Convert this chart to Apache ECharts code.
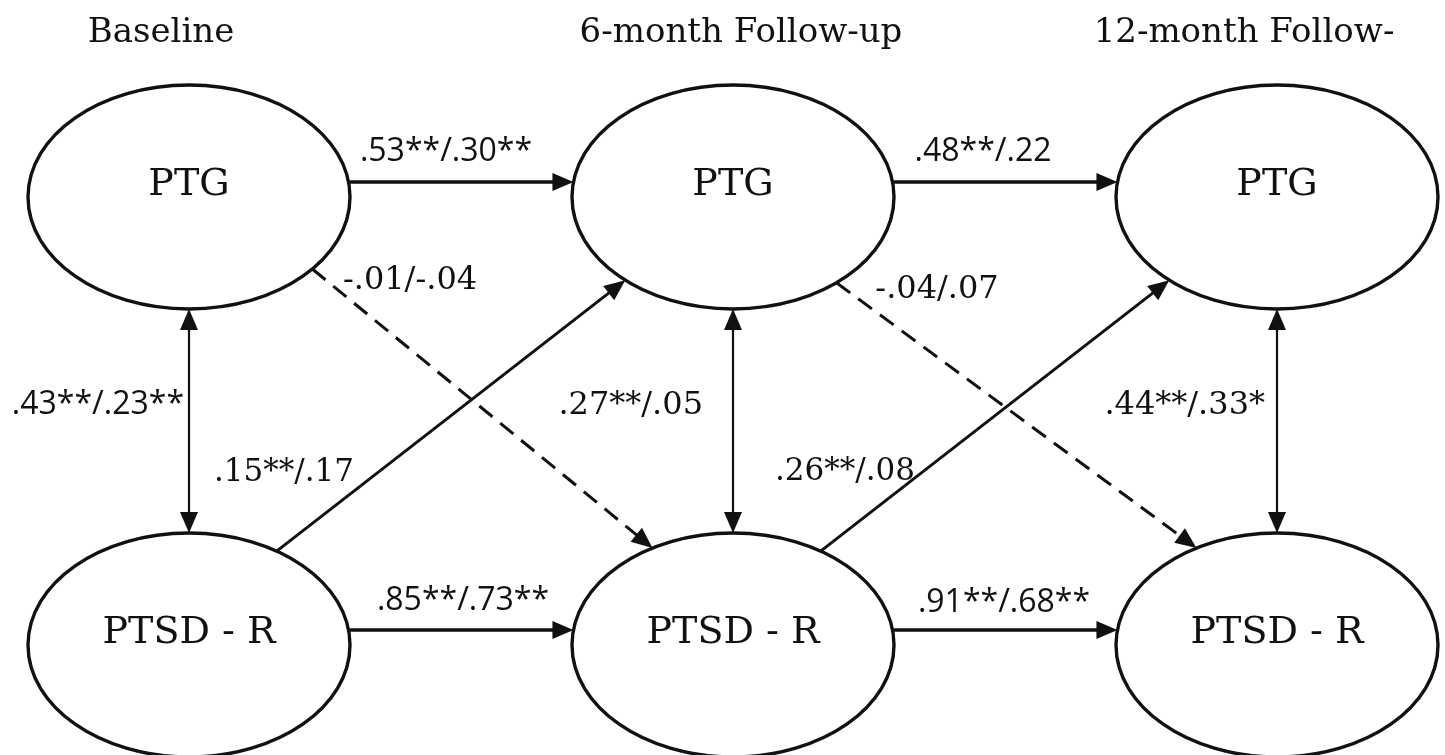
<!DOCTYPE html>
<html><head><meta charset="utf-8">
<script src="https://cdn.jsdelivr.net/npm/echarts@6/dist/echarts.min.js"></script>
<style>html,body{margin:0;padding:0;background:#fff}#c{width:1445px;height:755px}</style>
</head><body><div id="c"></div>
<script>
// ---------- data ----------
const waves = ['Baseline', '6-month Follow-up', '12-month Follow-'];
const constructs = ['PTG', 'PTSD - R'];
// paths between latent variables (wave index, construct row index)
const pathFromWave = [0, 1, 0, 1, 0, 1, 2, 0, 1, 0, 1];
const pathFromRow  = [0, 0, 1, 1, 0, 0, 0, 1, 1, 0, 0];
const pathToWave   = [1, 2, 1, 2, 0, 1, 2, 1, 2, 1, 2];
const pathToRow    = [0, 0, 1, 1, 1, 1, 1, 0, 0, 1, 1];
const pathLabels   = ['.53**/.30**', '.48**/.22', '.85**/.73**', '.91**/.68**',
                      '.43**/.23**', '.27**/.05', '.44**/.33*',
                      '.15**/.17', '.26**/.08', '-.01/-.04', '-.04/.07'];
const pathTwoWay     = [false, false, false, false, true, true, true, false, false, false, false];
const pathSignificant = [true, true, true, true, true, true, true, true, true, false, false];

// ---------- layout / style (not data) ----------
const ELL = { rx: 161, ry: 112 };
const INK = '#111111';
const SERIF = '"DejaVu Serif", "Liberation Serif", serif';
const SANS = '"Open Sans", "Liberation Sans", sans-serif';
const titleOffsets = [[-28, -164], [8, -164], [-33, -164]];
// anchor angles (deg) on source / target ellipse
const pathAnchors = [[-7.7, 187.7], [-7.7, 187.7], [-7.7, 187.7], [-7.7, 187.7],
                     [90, -90], [90, -90], [90, -90],
                     [-57, 132], [-57, 132], [40, -120], [50, -120]];
const labelOffsets = [[257, -45], [250, -45], [274, -44], [271, -42],
                      [-5, 208], [-30, 209], [-12, 209],
                      [95, -172], [112, -173], [221, 84], [204, 93]];
const labelAlign = ['center', 'center', 'center', 'center', 'right', 'right', 'right',
                    'center', 'center', 'center', 'center'];
const labelFont = ['32px ' + SANS, '32px ' + SANS, '32px ' + SANS, '32px ' + SANS, '32px ' + SANS,
                   '32px ' + SERIF, '32px ' + SERIF, '31px ' + SERIF, '31px ' + SERIF, '32px ' + SERIF, '32px ' + SERIF];
const lineWidths = [3.4, 3.4, 3.4, 3.4, 2.2, 2.2, 2.2, 3, 3, 3, 3];

const nodeData = [];
waves.forEach((w, i) => constructs.forEach((c, r) => nodeData.push([i, r, c])));
const pathData = pathLabels.map((l, k) => [pathFromWave[k], pathFromRow[k], pathToWave[k], pathToRow[k], k]);
const titleData = waves.map((w, i) => [i, 0, w]);

function anchor(c, deg) {
  const t = deg * Math.PI / 180;
  return [c[0] + ELL.rx * Math.cos(t), c[1] + ELL.ry * Math.sin(t)];
}
function arrowHead(tip, dir, len, wid) {
  const nx = -dir[1], ny = dir[0];
  const bx = tip[0] - dir[0] * len, by = tip[1] - dir[1] * len;
  return { type: 'polygon', shape: { points: [tip, [bx + nx * wid / 2, by + ny * wid / 2], [bx - nx * wid / 2, by - ny * wid / 2]] },
           style: { fill: INK } };
}

const chart = echarts.init(document.getElementById('c'), null, { renderer: 'canvas' });
chart.setOption({
  backgroundColor: '#ffffff',
  animation: false,
  grid: { left: 189, right: 168, top: 197, bottom: 110 },
  xAxis: { type: 'value', min: 0, max: waves.length - 1, show: false },
  yAxis: { type: 'value', min: 0, max: constructs.length - 1, inverse: true, show: false },
  series: [
    {
      type: 'custom', clip: false, z: 2, data: pathData,
      renderItem: function (params, api) {
        const k = api.value(4);
        const s = api.coord([api.value(0), api.value(1)]);
        const e = api.coord([api.value(2), api.value(3)]);
        const p0 = anchor(s, pathAnchors[k][0]);
        const p1 = anchor(e, pathAnchors[k][1]);
        const dx = p1[0] - p0[0], dy = p1[1] - p0[1];
        const L = Math.hypot(dx, dy);
        const d = [dx / L, dy / L];
        const hl = 21, hw = 18;
        const a = pathTwoWay[k] ? [p0[0] + d[0] * (hl - 2), p0[1] + d[1] * (hl - 2)] : p0;
        const b = [p1[0] - d[0] * (hl - 2), p1[1] - d[1] * (hl - 2)];
        const children = [{
          type: 'line', shape: { x1: a[0], y1: a[1], x2: b[0], y2: b[1] },
          style: { stroke: INK, lineWidth: lineWidths[k], lineDash: pathSignificant[k] ? null : [17, 10] }
        }];
        children.push(arrowHead(p1, d, hl, hw));
        if (pathTwoWay[k]) children.push(arrowHead(p0, [-d[0], -d[1]], hl, hw));
        children.push({
          type: 'text', z2: 5,
          style: { x: s[0] + labelOffsets[k][0], y: s[1] + labelOffsets[k][1], text: pathLabels[k],
                   fill: INK, font: labelFont[k], align: labelAlign[k], verticalAlign: 'middle' }
        });
        return { type: 'group', children: children };
      }
    },
    {
      type: 'custom', clip: false, z: 3, data: nodeData,
      renderItem: function (params, api) {
        const c = api.coord([api.value(0), api.value(1)]);
        return { type: 'group', children: [
          { type: 'ellipse', shape: { cx: c[0], cy: c[1], rx: ELL.rx, ry: ELL.ry },
            style: { fill: '#ffffff', stroke: INK, lineWidth: 3.4 } },
          { type: 'text', style: { x: c[0], y: c[1] - 12, text: constructs[api.value(1)], fill: INK,
            font: '38px ' + SERIF, align: 'center', verticalAlign: 'middle' } }
        ] };
      }
    },
    {
      type: 'custom', clip: false, z: 3, data: titleData,
      renderItem: function (params, api) {
        const i = api.value(0);
        const c = api.coord([i, 0]);
        return { type: 'text', style: { x: c[0] + titleOffsets[i][0], y: c[1] + titleOffsets[i][1], text: waves[i],
                 fill: INK, font: '34px ' + SERIF, align: 'center', verticalAlign: 'middle' } };
      }
    }
  ]
});
</script></body></html>
